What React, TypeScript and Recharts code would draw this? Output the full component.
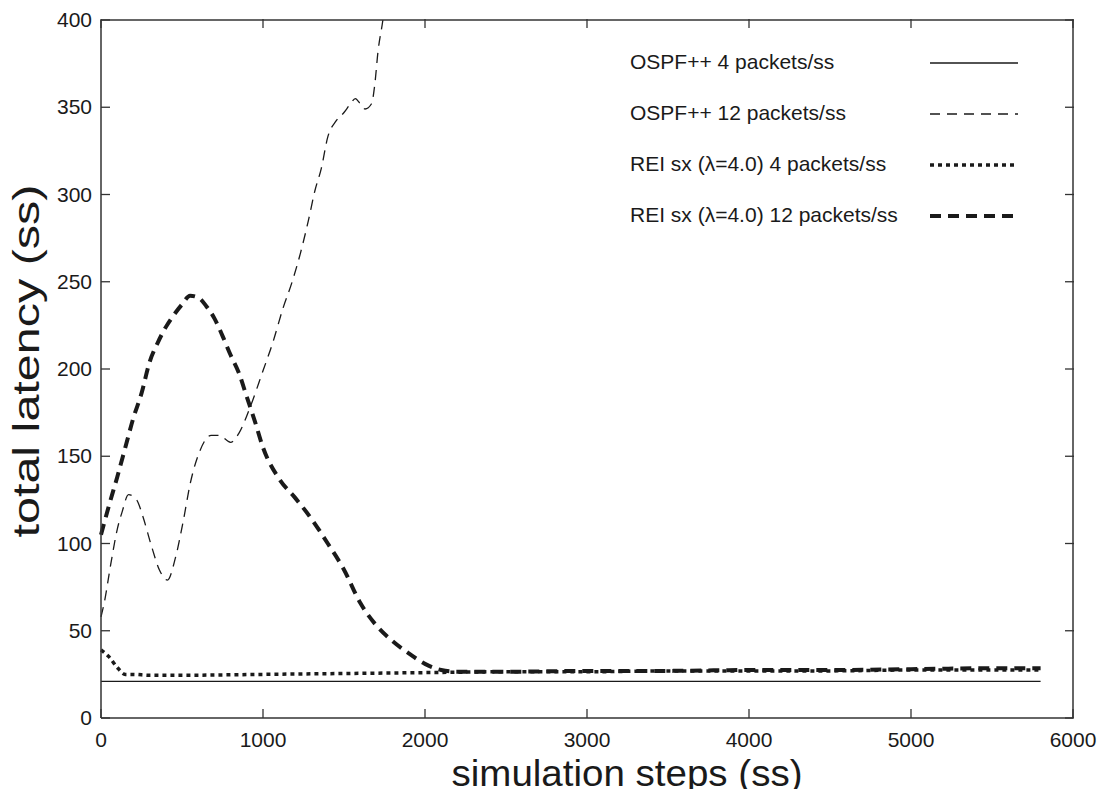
import { LineChart, Line, XAxis, YAxis, Legend } from 'recharts';

const xTicks = [0, 1000, 2000, 3000, 4000, 5000, 6000];
const yTicks = [0, 50, 100, 150, 200, 250, 300, 350, 400];

// OSPF++ 4 packets/ss
const ospf4X = [0, 1000, 2000, 3000, 4000, 5000, 5800];
const ospf4Y = [21, 21, 21, 21, 21, 21, 21];

// OSPF++ 12 packets/ss
const ospf12X = [0, 20, 60, 100, 130, 170, 220, 260, 310, 360, 410, 460, 510, 550, 610, 680, 730, 800, 850, 920, 1000, 1060, 1124, 1180, 1230, 1280, 1320, 1360, 1400, 1450, 1500, 1540, 1570, 1600, 1630, 1670, 1690, 1710, 1740, 1760];
const ospf12Y = [58, 66, 88, 108, 118, 128, 125, 115, 99, 85, 79, 92, 114, 134, 153, 162, 162, 158, 163, 178, 199, 215, 235, 250, 266, 285, 302, 315, 333, 342, 347, 352, 355, 352, 349, 352, 363, 382, 400, 415];

// REI sx (λ=4.0) 4 packets/ss
const rei4X = [0, 50, 100, 150, 200, 300, 500, 1000, 1500, 2000, 2500, 3000, 3500, 4000, 4500, 5000, 5500, 5800];
const rei4Y = [39, 35, 29, 25, 25, 24.5, 24.5, 25, 25.5, 26, 26.5, 26.5, 27, 27, 27, 27.5, 27.5, 27.5];

// REI sx (λ=4.0) 12 packets/ss
const rei12X = [0, 50, 100, 150, 200, 250, 300, 350, 400, 450, 500, 550, 600, 650, 700, 750, 800, 850, 900, 950, 1000, 1100, 1200, 1300, 1400, 1500, 1600, 1700, 1800, 1900, 2000, 2100, 2200, 2500, 3000, 3500, 4000, 4500, 5000, 5500, 5800];
const rei12Y = [105, 122, 138, 155, 172, 186, 204, 215, 224, 231, 237, 242, 241, 236, 229, 219, 208, 198, 184, 170, 155, 137, 126, 114, 100, 85, 66, 53, 44, 37, 31, 27.5, 26.5, 26.5, 27, 27, 27.5, 27.5, 28, 28.5, 28.5];

const toPoints = (xs: number[], ys: number[]) => xs.map((x, i) => ({ x, y: ys[i] }));

const series = [
  { name: 'OSPF++ 4 packets/ss', data: toPoints(ospf4X, ospf4Y), width: 1.3, dash: undefined },
  { name: 'OSPF++ 12 packets/ss', data: toPoints(ospf12X, ospf12Y), width: 1.3, dash: '10 7' },
  { name: 'REI sx (\u03bb=4.0) 4 packets/ss', data: toPoints(rei4X, rei4Y), width: 3.5, dash: '4 4' },
  { name: 'REI sx (\u03bb=4.0) 12 packets/ss', data: toPoints(rei12X, rei12Y), width: 4, dash: '11 7' },
];

// plot frame (pixels) used for the inward tick marks
const LEFT = 101;
const RIGHT = 1074;
const TOP = 19;
const BOTTOM = 718;

const FONT = '"Liberation Sans", Arial, sans-serif';
const AXIS = '#333';
const INK = '#1a1a1a';

const LeftTick = ({ y, payload }: any) => (
  <g>
    <line x1={LEFT} x2={LEFT + 9} y1={y} y2={y} stroke={AXIS} strokeWidth={1.3} />
    <text x={LEFT - 9} y={y} dy={7} textAnchor="end" fontSize={21} fill={INK} fontFamily={FONT}>
      {payload.value}
    </text>
  </g>
);

const BottomTick = ({ x, payload }: any) => (
  <g>
    <line x1={x} x2={x} y1={BOTTOM} y2={BOTTOM - 9} stroke={AXIS} strokeWidth={1.3} />
    <text x={x} y={BOTTOM + 29} textAnchor="middle" fontSize={21} fill={INK} fontFamily={FONT}>
      {payload.value}
    </text>
  </g>
);

const TopTick = ({ x }: any) => <line x1={x} x2={x} y1={TOP} y2={TOP + 9} stroke={AXIS} strokeWidth={1.3} />;
const RightTick = ({ y }: any) => <line x1={RIGHT} x2={RIGHT - 9} y1={y} y2={y} stroke={AXIS} strokeWidth={1.3} />;

const XTitle = () => (
  <text x={627} y={786} textAnchor="middle" fontSize={36} fill={INK} fontFamily={FONT} textLength={351} lengthAdjust="spacingAndGlyphs">
    simulation steps (ss)
  </text>
);

const YTitle = () => (
  <text x={39} y={361} transform="rotate(-90 39 361)" textAnchor="middle" fontSize={37} fill={INK} fontFamily={FONT} textLength={353} lengthAdjust="spacingAndGlyphs">
    total latency (ss)
  </text>
);

const LegendBox = () => (
  <div style={{ position: 'relative', width: 400, height: 210, fontFamily: FONT }}>
    {series.map((s, i) => (
      <div key={s.name} style={{ position: 'absolute', left: 0, top: i * 51, height: 50, width: 400 }}>
        <span style={{ position: 'absolute', left: 0, top: 12, fontSize: 21, color: INK, whiteSpace: 'nowrap' }}>{s.name}</span>
        <svg width={100} height={20} style={{ position: 'absolute', left: 300, top: 15 }}>
          <line x1={0} x2={88} y1={10} y2={10} stroke={INK} strokeWidth={s.width} strokeDasharray={s.dash} />
        </svg>
      </div>
    ))}
  </div>
);

export default function App() {
  return (
    <div style={{ margin: -8, width: 1111, height: 797, background: '#fff' }}>
      <LineChart width={1111} height={797} margin={{ top: 19, right: 37, bottom: 0, left: 0 }}>
        <XAxis
          xAxisId="b"
          dataKey="x"
          type="number"
          domain={[0, 6000]}
          ticks={xTicks}
          height={79}
          tickLine={false}
          tick={<BottomTick />}
          axisLine={{ stroke: AXIS, strokeWidth: 1.5 }}
          label={<XTitle />}
        />
        <XAxis
          xAxisId="t"
          orientation="top"
          dataKey="x"
          type="number"
          domain={[0, 6000]}
          ticks={xTicks}
          height={1}
          tickLine={false}
          tick={<TopTick />}
          axisLine={{ stroke: AXIS, strokeWidth: 1.5 }}
        />
        <YAxis
          yAxisId="l"
          type="number"
          domain={[0, 400]}
          ticks={yTicks}
          allowDataOverflow
          width={101}
          tickLine={false}
          tick={<LeftTick />}
          axisLine={{ stroke: AXIS, strokeWidth: 1.5 }}
          label={<YTitle />}
        />
        <YAxis
          yAxisId="r"
          orientation="right"
          type="number"
          domain={[0, 400]}
          ticks={yTicks}
          allowDataOverflow
          width={1}
          tickLine={false}
          tick={<RightTick />}
          axisLine={{ stroke: AXIS, strokeWidth: 1.5 }}
        />
        <Legend
          layout="vertical"
          align="center"
          verticalAlign="middle"
          content={<LegendBox />}
          wrapperStyle={{ top: 38, left: 630, width: 400, height: 210 }}
        />
        {/* invisible copy bound to the top/right frame axes so they get drawn */}
        <Line
          data={series[0].data}
          dataKey="y"
          xAxisId="t"
          yAxisId="r"
          dot={false}
          stroke="none"
          legendType="none"
          isAnimationActive={false}
        />
        {series.map((s) => (
          <Line
            key={s.name}
            name={s.name}
            data={s.data}
            dataKey="y"
            xAxisId="b"
            yAxisId="l"
            type="monotone"
            dot={false}
            stroke={INK}
            strokeWidth={s.width}
            strokeDasharray={s.dash}
            isAnimationActive={false}
          />
        ))}
      </LineChart>
    </div>
  );
}
